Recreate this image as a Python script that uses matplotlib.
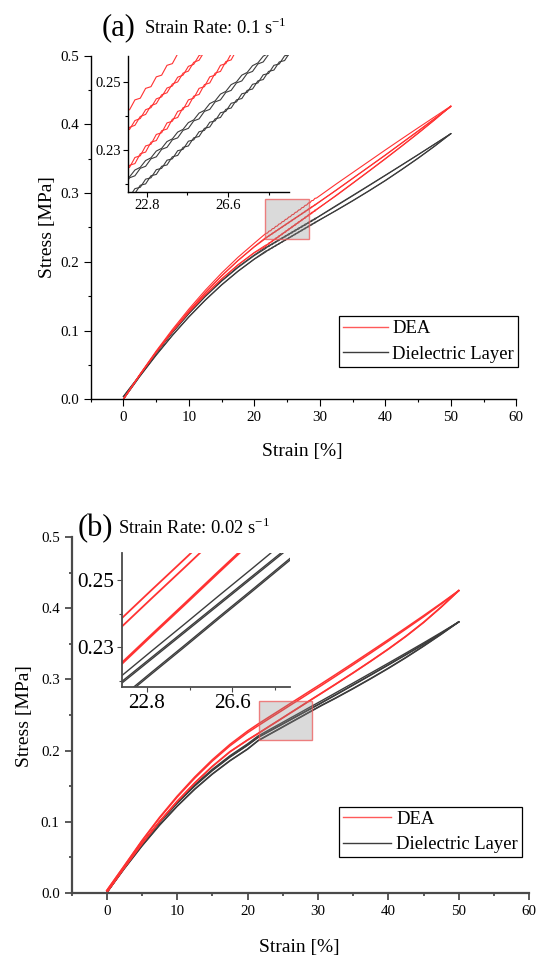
import matplotlib.pyplot as plt
from matplotlib.patches import Rectangle
from matplotlib.lines import Line2D
from matplotlib.ticker import MultipleLocator, FixedLocator, FormatStrFormatter

plt.rcParams['font.family'] = ['Liberation Serif', 'DejaVu Serif']
plt.rcParams['mathtext.fontset'] = 'custom'
plt.rcParams['mathtext.rm'] = 'Liberation Serif'

# ---- (a) strain rate 0.1 1/s : three load/unload cycles, strain in %, stress in MPa
strain_a = [0, 2.5, 5, 7.5, 10, 12.5, 15, 17.5, 20,
            21.75, 22.0, 22.25, 22.5, 22.75, 23.0, 23.25, 23.5, 23.75, 24.0,
            24.25, 24.5, 24.75, 25.0, 25.25, 25.5, 25.75, 26.0, 26.25, 26.5,
            26.75, 27.0, 27.25, 27.5, 27.75, 28.0, 28.25, 28.5, 28.75, 29.0,
            29.25, 29.5,
            32.5, 35, 37.5, 40, 42.5, 45, 47.5, 50]

dea_load1_a = [0.0, 0.0361, 0.0701, 0.1018, 0.1313, 0.1586, 0.1837, 0.2066, 0.2272,
               0.2414, 0.2419, 0.2448, 0.2453, 0.2482, 0.2487, 0.2516, 0.2521, 0.2550, 0.2555,
               0.2584, 0.2589, 0.2618, 0.2623, 0.2652, 0.2657, 0.2686, 0.2691, 0.2720, 0.2725,
               0.2754, 0.2759, 0.2788, 0.2793, 0.2822, 0.2827, 0.2856, 0.2861, 0.2890, 0.2895,
               0.2924, 0.2929,
               0.3133, 0.3298, 0.3463, 0.3628, 0.3790, 0.3950, 0.4108, 0.4266]
dea_load2_a = [0.0, 0.0354, 0.0687, 0.0997, 0.1286, 0.1553, 0.1798, 0.2021, 0.2222,
               0.2355, 0.2361, 0.2387, 0.2393, 0.2419, 0.2425, 0.2451, 0.2457, 0.2483, 0.2489,
               0.2515, 0.2521, 0.2547, 0.2553, 0.2579, 0.2585, 0.2611, 0.2617, 0.2643, 0.2649,
               0.2675, 0.2681, 0.2707, 0.2713, 0.2739, 0.2745, 0.2771, 0.2777, 0.2803, 0.2809,
               0.2835, 0.2841,
               0.3045, 0.3215, 0.3385, 0.3555, 0.3730, 0.3905, 0.4082, 0.4260]
dea_load3_a = [0.0, 0.0352, 0.0684, 0.0993, 0.1282, 0.1549, 0.1794, 0.2017, 0.2218,
               0.2341, 0.2367, 0.2373, 0.2399, 0.2405, 0.2431, 0.2437, 0.2463, 0.2469, 0.2495,
               0.2501, 0.2527, 0.2533, 0.2559, 0.2565, 0.2591, 0.2597, 0.2623, 0.2629, 0.2655,
               0.2661, 0.2687, 0.2693, 0.2719, 0.2725, 0.2751, 0.2757, 0.2783, 0.2789, 0.2815,
               0.2821, 0.2847,
               0.3042, 0.3212, 0.3382, 0.3552, 0.3727, 0.3902, 0.4080, 0.4258]
dea_unload1_a = [0.0, 0.0356, 0.0686, 0.0990, 0.1270, 0.1524, 0.1753, 0.1958, 0.2137,
                 0.2244, 0.2249, 0.2278, 0.2283, 0.2312, 0.2317, 0.2346, 0.2351, 0.2380, 0.2385,
                 0.2414, 0.2419, 0.2448, 0.2453, 0.2482, 0.2487, 0.2516, 0.2521, 0.2550, 0.2555,
                 0.2584, 0.2589, 0.2618, 0.2623, 0.2652, 0.2657, 0.2686, 0.2691, 0.2720, 0.2725,
                 0.2754, 0.2759,
                 0.2969, 0.3145, 0.3323, 0.3503, 0.3686, 0.3873, 0.4066, 0.4266]
dea_unload2_a = [0.0, 0.0351, 0.0681, 0.0985, 0.1265, 0.1519, 0.1748, 0.1953, 0.2132,
                 0.2226, 0.2255, 0.2260, 0.2289, 0.2294, 0.2323, 0.2328, 0.2357, 0.2362, 0.2391,
                 0.2396, 0.2425, 0.2430, 0.2459, 0.2464, 0.2493, 0.2498, 0.2527, 0.2532, 0.2561,
                 0.2566, 0.2595, 0.2600, 0.2629, 0.2634, 0.2663, 0.2668, 0.2697, 0.2702, 0.2731,
                 0.2736, 0.2765,
                 0.2963, 0.3140, 0.3318, 0.3498, 0.3682, 0.3869, 0.4063, 0.4266]

diel_load1_a = [0.004, 0.0350, 0.0676, 0.0976, 0.1252, 0.1502, 0.1727, 0.1927, 0.2102,
                0.2213, 0.2221, 0.2241, 0.2249, 0.2269, 0.2277, 0.2297, 0.2305, 0.2325, 0.2333,
                0.2353, 0.2361, 0.2381, 0.2389, 0.2409, 0.2417, 0.2437, 0.2445, 0.2465, 0.2473,
                0.2493, 0.2501, 0.2521, 0.2529, 0.2549, 0.2557, 0.2577, 0.2585, 0.2605, 0.2613,
                0.2633, 0.2641,
                0.2820, 0.2966, 0.3113, 0.3261, 0.3410, 0.3560, 0.3712, 0.3865]
diel_load2_a = [0.004, 0.0348, 0.0672, 0.0970, 0.1245, 0.1494, 0.1718, 0.1917, 0.2091,
                0.2196, 0.2218, 0.2224, 0.2246, 0.2252, 0.2274, 0.2280, 0.2302, 0.2308, 0.2330,
                0.2336, 0.2358, 0.2364, 0.2386, 0.2392, 0.2414, 0.2420, 0.2442, 0.2448, 0.2470,
                0.2476, 0.2498, 0.2504, 0.2526, 0.2532, 0.2554, 0.2560, 0.2582, 0.2588, 0.2610,
                0.2616, 0.2638,
                0.2813, 0.2960, 0.3108, 0.3257, 0.3407, 0.3558, 0.3711, 0.3865]
diel_unload1_a = [0.0, 0.0334, 0.0645, 0.0934, 0.1201, 0.1445, 0.1667, 0.1866, 0.2043,
                  0.2158, 0.2162, 0.2186, 0.2190, 0.2214, 0.2218, 0.2242, 0.2246, 0.2270, 0.2274,
                  0.2298, 0.2302, 0.2326, 0.2330, 0.2354, 0.2358, 0.2382, 0.2386, 0.2410, 0.2414,
                  0.2438, 0.2442, 0.2466, 0.2470, 0.2494, 0.2498, 0.2522, 0.2526, 0.2550, 0.2554,
                  0.2578, 0.2582,
                  0.2750, 0.2890, 0.3035, 0.3185, 0.3345, 0.3510, 0.3683, 0.3865]
diel_unload2_a = [0.0, 0.0331, 0.0640, 0.0929, 0.1196, 0.1440, 0.1662, 0.1861, 0.2038,
                  0.2144, 0.2168, 0.2172, 0.2196, 0.2200, 0.2224, 0.2228, 0.2252, 0.2256, 0.2280,
                  0.2284, 0.2308, 0.2312, 0.2336, 0.2340, 0.2364, 0.2368, 0.2392, 0.2396, 0.2420,
                  0.2424, 0.2448, 0.2452, 0.2476, 0.2480, 0.2504, 0.2508, 0.2532, 0.2536, 0.2560,
                  0.2564, 0.2588,
                  0.2746, 0.2886, 0.3031, 0.3181, 0.3341, 0.3506, 0.3680, 0.3865]

# ---- (b) strain rate 0.02 1/s
strain_b = [0, 2.5, 5, 7.5, 10, 12.5, 15, 17.5, 20, 21.5, 23, 24.5, 26, 27.5,
            29, 30.5, 32.5, 35, 37.5, 40, 42.5, 45, 47.5, 50]

dea_load1_b = [0.003, 0.0381, 0.0734, 0.1060, 0.1358, 0.1628, 0.1871, 0.2087, 0.2274, 0.2374,
               0.2469, 0.2563, 0.2658, 0.2752, 0.2847, 0.2941, 0.3069, 0.3231, 0.3395, 0.3560,
               0.3728, 0.3898, 0.4072, 0.4250]
dea_load2_b = [0.003, 0.0376, 0.0726, 0.1049, 0.1344, 0.1611, 0.1852, 0.2066, 0.2251, 0.2349,
               0.2444, 0.2538, 0.2633, 0.2727, 0.2822, 0.2916, 0.3045, 0.3208, 0.3373, 0.3540,
               0.3710, 0.3882, 0.4062, 0.4250]
dea_unload1_b = [0.0, 0.0352, 0.0690, 0.1002, 0.1287, 0.1546, 0.1779, 0.1985, 0.2150, 0.2242,
                 0.2337, 0.2431, 0.2526, 0.2620, 0.2715, 0.2809, 0.2935, 0.3095, 0.3260, 0.3430,
                 0.3610, 0.3805, 0.4020, 0.4250]
dea_unload2_b = [0.0, 0.0349, 0.0686, 0.0998, 0.1283, 0.1542, 0.1775, 0.1981, 0.2146, 0.2238,
                 0.2333, 0.2427, 0.2522, 0.2616, 0.2711, 0.2805, 0.2931, 0.3091, 0.3256, 0.3426,
                 0.3606, 0.3801, 0.4017, 0.4250]

diel_load1_b = [0.0, 0.0362, 0.0694, 0.0998, 0.1272, 0.1518, 0.1736, 0.1927, 0.2094, 0.2205,
                0.2288, 0.2370, 0.2453, 0.2535, 0.2618, 0.2700, 0.2811, 0.2950, 0.3090, 0.3230,
                0.3372, 0.3515, 0.3661, 0.3810]
diel_load2_b = [0.0, 0.0358, 0.0688, 0.0990, 0.1262, 0.1506, 0.1722, 0.1912, 0.2078, 0.2188,
                0.2269, 0.2350, 0.2431, 0.2512, 0.2593, 0.2674, 0.2785, 0.2925, 0.3066, 0.3208,
                0.3352, 0.3498, 0.3652, 0.3810]
diel_load3_b = [0.0, 0.0355, 0.0684, 0.0985, 0.1257, 0.1501, 0.1717, 0.1907, 0.2073, 0.2183,
                0.2264, 0.2345, 0.2426, 0.2507, 0.2588, 0.2669, 0.2780, 0.2920, 0.3061, 0.3203,
                0.3347, 0.3493, 0.3647, 0.3810]
diel_unload1_b = [0.0, 0.0341, 0.0660, 0.0953, 0.1219, 0.1459, 0.1672, 0.1859, 0.2023, 0.2142,
                  0.2225, 0.2307, 0.2390, 0.2472, 0.2555, 0.2637, 0.2740, 0.2875, 0.3015, 0.3160,
                  0.3312, 0.3472, 0.3638, 0.3810]
diel_unload2_b = [0.0, 0.0337, 0.0655, 0.0948, 0.1214, 0.1454, 0.1667, 0.1854, 0.2018, 0.2137,
                  0.2220, 0.2302, 0.2385, 0.2467, 0.2550, 0.2632, 0.2735, 0.2870, 0.3010, 0.3155,
                  0.3307, 0.3467, 0.3634, 0.3810]

# zoom windows (x0, x1, y0, y1): marked box on the main axes and the inset limits
box_a = (21.7, 28.3, 0.233, 0.291)
inset_lim_a = (21.94, 29.47, 0.2177, 0.2579)
box_b = (21.6, 29.1, 0.215, 0.270)
inset_lim_b = (21.69, 29.16, 0.2183, 0.2579)

RED = '#ff3232'
GREY = '#3c3c3c'
W, H = 536, 956


def px_axes(left, top, right, bottom):
    return [left / W, 1 - bottom / H, (right - left) / W, (bottom - top) / H]


def main_axes(rect, spine_w, spine_c):
    ax = fig.add_axes(rect)
    for s in ['top', 'right']:
        ax.spines[s].set_visible(False)
    for s in ['left', 'bottom']:
        ax.spines[s].set_linewidth(spine_w)
        ax.spines[s].set_color(spine_c)
    ax.set_xlim(-5, 60)
    ax.set_ylim(0, 0.5)
    ax.xaxis.set_major_locator(MultipleLocator(10))
    ax.xaxis.set_minor_locator(MultipleLocator(5))
    ax.yaxis.set_major_locator(MultipleLocator(0.1))
    ax.yaxis.set_minor_locator(MultipleLocator(0.05))
    ax.yaxis.set_major_formatter(FormatStrFormatter('%.1f'))
    ax.tick_params(which='major', direction='out', length=5, width=spine_w * 0.8,
                   color=spine_c, labelsize=10.8)
    ax.tick_params(which='minor', direction='out', length=2.5, width=spine_w * 0.8, color=spine_c)
    ax.text(0.497, -0.153, 'Strain [%]', transform=ax.transAxes, ha='center', va='center',
            fontsize=14)
    return ax


def inset_axes(rect, lim, spine_w, spine_c, size):
    axi = fig.add_axes(rect)
    for s in ['top', 'right']:
        axi.spines[s].set_visible(False)
    for s in ['left', 'bottom']:
        axi.spines[s].set_linewidth(spine_w)
        axi.spines[s].set_color(spine_c)
    axi.set_xlim(lim[0], lim[1])
    axi.set_ylim(lim[2], lim[3])
    axi.xaxis.set_major_locator(FixedLocator([22.8, 26.6]))
    axi.xaxis.set_minor_locator(FixedLocator([24.7, 28.5]))
    axi.yaxis.set_major_locator(FixedLocator([0.23, 0.25]))
    axi.yaxis.set_minor_locator(FixedLocator([0.22, 0.24]))
    axi.xaxis.set_major_formatter(FormatStrFormatter('%.1f'))
    axi.yaxis.set_major_formatter(FormatStrFormatter('%.2f'))
    axi.tick_params(which='major', direction='out', length=3.5, width=0.8, color=spine_c,
                    labelsize=size, pad=2)
    axi.tick_params(which='minor', direction='out', length=2, width=0.8, color=spine_c)
    return axi


def zoom_box(ax, box):
    ax.add_patch(Rectangle((box[0], box[2]), box[1] - box[0], box[3] - box[2],
                           facecolor=(0.55, 0.55, 0.55, 0.32),
                           edgecolor=(0.93, 0.35, 0.35, 0.75), lw=1, zorder=5))


def add_legend(ax, left, top, hl, pad):
    handles = [Line2D([], [], color='#ff5a5a', lw=1.0),
               Line2D([], [], color=GREY, lw=1.0)]
    leg = ax.legend(handles, ['DEA', 'Dielectric Layer'], loc='upper left',
                    bbox_to_anchor=(left / W, 1 - top / H), bbox_transform=fig.transFigure,
                    fancybox=False, edgecolor='black', framealpha=1, fontsize=13.4,
                    handlelength=hl, handletextpad=pad, borderpad=0.22,
                    labelspacing=0.45, borderaxespad=0)
    leg.get_frame().set_linewidth(0.9)


fig = plt.figure(figsize=(W / 100, H / 100), dpi=100)

dea_a = [dea_load1_a, dea_load2_a, dea_load3_a, dea_unload1_a, dea_unload2_a]
diel_a = [diel_load1_a, diel_load2_a, diel_unload1_a, diel_unload2_a]
dea_b = [dea_load1_b, dea_load2_b, dea_unload1_b, dea_unload2_b]
diel_b = [diel_load1_b, diel_load2_b, diel_load3_b, diel_unload1_b, diel_unload2_b]

# panel (a)
ax = main_axes(px_axes(90.6, 55.7, 516.3, 399.3), 1.0, 'black')
for y in diel_a:
    ax.plot(strain_a, y, color=GREY, lw=0.8)
for y in dea_a:
    ax.plot(strain_a, y, color=RED, lw=0.8)
zoom_box(ax, box_a)
ax.text(-0.1024, 0.5, 'Stress [MPa]', transform=ax.transAxes, rotation=90,
        ha='center', va='center', fontsize=14)
add_legend(ax, 339.3, 316, 2.4, 0.22)

axi = inset_axes(px_axes(128.3, 55.5, 289.3, 191.7), inset_lim_a, 1.0, 'black', 10.5)
for y in diel_a:
    axi.plot(strain_a, y, color=GREY, lw=0.8)
for y in dea_a:
    axi.plot(strain_a, y, color=RED, lw=0.8)

fig.text(119 / W, 1 - 28 / H, '(a)', fontsize=22, ha='center', va='center')
fig.text(144 / W, 1 - 34 / H, r'Strain Rate: 0.1 s$^{-1}$', fontsize=13.3, ha='left',
         va='baseline')

# panel (b)
bx = main_axes(px_axes(71.5, 537.3, 529.2, 892.7), 1.6, '#4a4a4a')
for y in diel_b:
    bx.plot(strain_b, y, color=GREY, lw=1.0)
for y in dea_b:
    bx.plot(strain_b, y, color=RED, lw=1.1)
zoom_box(bx, box_b)
bx.text(-0.1016, 0.497, 'Stress [MPa]', transform=bx.transAxes, rotation=90,
        ha='center', va='center', fontsize=14)
add_legend(bx, 339.3, 806.7, 2.55, 0.28)

bxi = inset_axes(px_axes(121.7, 553.3, 290, 686.7), inset_lim_b, 1.3, '#4a4a4a', 15.3)
for y in diel_b:
    bxi.plot(strain_b, y, color=GREY, lw=1.0)
for y in dea_b:
    bxi.plot(strain_b, y, color=RED, lw=1.3)

fig.text(95 / W, 1 - 529 / H, '(b)', fontsize=22, ha='center', va='center')
fig.text(118.3 / W, 1 - 534 / H, r'Strain Rate: 0.02 s$^{-1}$', fontsize=13.3, ha='left',
         va='baseline')

fig.savefig('out.png', dpi=100)
